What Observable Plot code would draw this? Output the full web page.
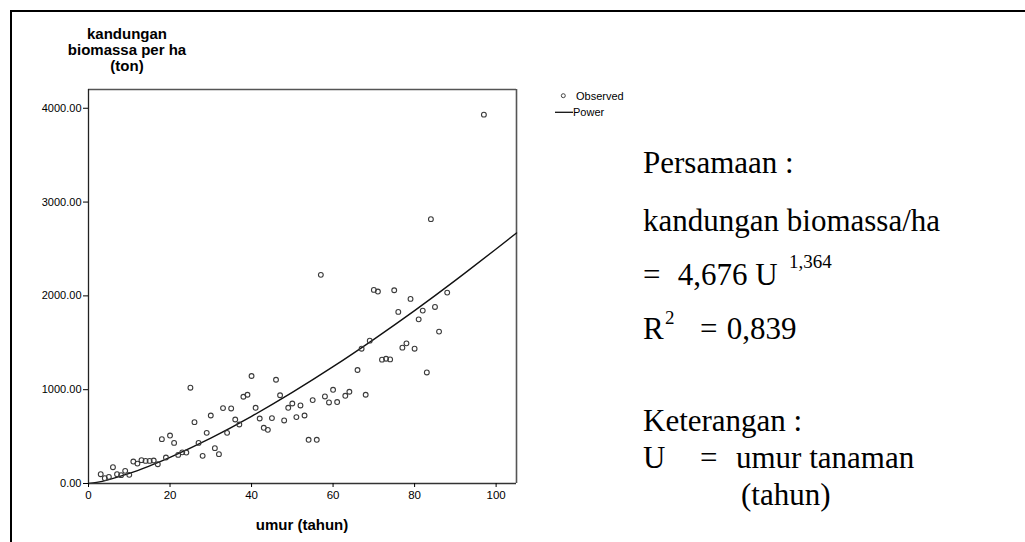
<!DOCTYPE html>
<html><head><meta charset="utf-8">
<script src="https://cdn.jsdelivr.net/npm/d3@7"></script>
<script src="https://cdn.jsdelivr.net/npm/@observablehq/plot@0.6"></script>
<style>body{margin:0;background:#fff;} svg{display:block}</style>
</head><body><div id="chart"></div>
<script>
// Observed points (umur in years, biomass per ha in ton)
const age = [3,4,5,6,7,8,9,10,11,12,13,14,15,16,17,18,19,20,21,22,23,24,25,26,27,28,29,30,31,32,33,34,35,36,37,38,39,40,41,42,43,44,45,46,47,48,49,50,51,52,53,54,55,56,57,58,59,60,61,63,64,66,67,68,69,70,71,72,73,74,75,76,77,78,79,80,81,82,83,84,85,86,88,97];
const biomass = [99,57,70,174,99,89,135,92,234,212,
  249,241,241,245,206,473,277,511,433,305,
  332,330,1021,654,433,295,540,725,377,313,
  804,540,800,682,629,925,946,1146,807,693,
  594,572,697,1106,941,672,807,853,708,832,
  725,466,889,466,2224,928,864,999,868,935,
  978,1210,1437,946,1523,2064,2046,1320,1330,1323,
  2060,1829,1448,1494,1968,1437,1750,1843,1184,2818,
  1882,1619,2035,3932];
// Power fit curve
const fitAge = [0,2,5,10,15,20,30,40,50,60,70,80,90,100,105];
const fitBiomass = [0,12,42,108,188,278,484,716,971,1245,1537,1843,2165,2500,2670];
const xTicks = [0,20,40,60,80,100];
const yTicks = [0,1000,2000,3000,4000];
const yTitle = ["kandungan","biomassa per ha","(ton)"];
const xTitle = "umur (tahun)";
const legendLabels = ["Observed","Power"];

const observed = age.map((a,i)=>({age:a, biomass:biomass[i]}));
const fit = fitAge.map((a,i)=>({age:a, biomass:fitBiomass[i]}));

const plot = Plot.plot({
  width:1025, height:542,
  marginLeft:88, marginRight:509, marginTop:89, marginBottom:59,
  x:{domain:[0,105]}, y:{domain:[0,4200]},
  style:{fontFamily:"'Liberation Sans', Arial, sans-serif", fontSize:"11px", color:"#000", background:"#fff", overflow:"visible"},
  marks:[
    Plot.ruleY([4200],{stroke:"#555",strokeWidth:1.6}),
    Plot.ruleX([105],{stroke:"#555",strokeWidth:1.6}),
    Plot.line(fit,{x:"age",y:"biomass",curve:"natural",stroke:"#111",strokeWidth:1.4}),
    Plot.dot(observed,{x:"age",y:"biomass",r:2.4,stroke:"#3a3a3a",strokeWidth:1.1,fill:"none"}),
    Plot.ruleX([0],{stroke:"#222",strokeWidth:1.3}),
    Plot.ruleY([0],{stroke:"#333",strokeWidth:1.3}),
    Plot.axisY({ticks:yTicks,tickFormat:d=>d.toFixed(2),tickSize:5,tickPadding:2,label:null,fontSize:11}),
    Plot.axisX({ticks:xTicks,tickSize:4,tickPadding:3,label:null,fontSize:11.5})
  ]
});
document.getElementById("chart").appendChild(plot);

const svg = d3.select(plot);
// outer border
svg.append("path").attr("d","M11,542V11H1025").attr("fill","none").attr("stroke","#000").attr("stroke-width",2);

const sans = "'Liberation Sans', Arial, sans-serif";
const serif = "'Liberation Serif', 'Times New Roman', serif";
function txt(x,y,s,opt={}){
  return svg.append("text").attr("x",x).attr("y",y).text(s)
    .attr("font-family",opt.family||sans).attr("font-size",opt.size||11)
    .attr("font-weight",opt.weight||"normal").attr("text-anchor",opt.anchor||"start")
    .attr("fill","#000");
}
// y title
yTitle.forEach((s,i)=>txt(127,38.5+i*16.3,s,{weight:"bold",size:15,anchor:"middle"}));
// x title
txt(302,530,xTitle,{weight:"bold",size:15,anchor:"middle"});
// legend
svg.append("circle").attr("cx",563.3).attr("cy",95.7).attr("r",2).attr("fill","none").attr("stroke","#444");
txt(576,100,legendLabels[0],{size:11});
svg.append("line").attr("x1",555).attr("x2",573).attr("y1",112.3).attr("y2",112.3).attr("stroke","#111").attr("stroke-width",1.3);
txt(573,116,legendLabels[1],{size:11});
// right-hand annotation
const S = {family:serif,size:31};
const sup = {family:serif,size:19};
txt(643,173,"Persamaan :",S);
txt(643,231,"kandungan biomassa/ha",S);
txt(643,285,"=",S);
txt(677.7,285,"4,676 U",S);
txt(789,268,"1,364",sup);
txt(643,339,"R",S);
txt(665,324,"2",sup);
txt(700,339,"=",S);
txt(726.7,339,"0,839",S);
txt(643,431,"Keterangan :",S);
txt(643,468,"U",S);
txt(700,468,"=",S);
txt(736,468,"umur tanaman",S);
txt(741,505,"(tahun)",S);
</script>
</body></html>
